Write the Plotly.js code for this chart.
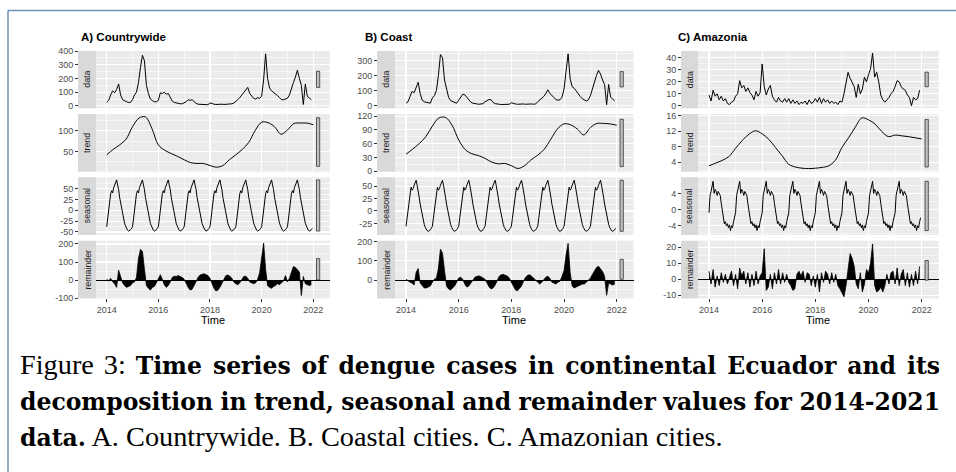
<!DOCTYPE html>
<html>
<head>
<meta charset="utf-8">
<script src="https://cdn.plot.ly/plotly-3.0.1.min.js"></script>
<style>
  body { margin: 0; background: #fff; }
  #wrap { position: relative; width: 956px; height: 472px; overflow: hidden; background: #fff; }
  #chart { position: absolute; left: 0; top: 0; width: 956px; height: 472px; }
  .ln { position: absolute; left: 20px; height: 0; line-height: 0; white-space: nowrap; color: #000;
        font-family: 'Liberation Serif', 'Times New Roman', serif; font-size: 28.3px; }
  .ln .r { font-family: 'Liberation Serif', 'Times New Roman', serif; font-size: 28.3px; font-weight: normal; }
  .ln .b { font-family: 'DejaVu Serif', serif; font-size: 23.5px; font-weight: bold; }
</style>
</head>
<body>
<div id="wrap">
  <div id="chart"></div>
  <div class="ln" id="l1" style="top:365px"><span class="inner"><span class="r">Figure 3:</span> <span class="b">Time series of dengue cases in continental Ecuador and its</span></span></div>
  <div class="ln" id="l2" style="top:401px"><span class="inner"><span class="b">decomposition in trend, seasonal and remainder values for 2014-2021</span></span></div>
  <div class="ln" id="l3" style="top:437px"><span class="inner"><span class="b">data.</span> <span class="r">A. Countrywide. B. Coastal cities. C. Amazonian cities.</span></span></div>
</div>
<script>
// ---------------- DATA ----------------
// observed series, sampled every 1/13 year from 2014.0
const dataA = [25,40,80,110,95,120,160,80,45,35,30,25,25,
  45,80,100,170,280,370,330,150,90,50,38,30,30,
  40,95,90,100,85,90,60,35,25,20,18,15,15,
  20,30,45,40,45,30,18,12,12,10,10,8,8,
  22,15,12,10,12,10,12,10,10,12,10,15,20,
  30,45,60,80,100,120,135,90,70,55,50,60,55,
  70,190,380,200,130,110,100,90,75,60,45,45,50,
  55,80,130,170,210,260,200,150,10,160,70,55,45];
const dataB = [15,25,60,95,85,115,155,80,35,25,22,20,15,
  50,65,100,200,340,320,170,120,55,32,25,20,15,
  35,55,75,72,55,40,22,15,10,10,8,10,12,
  25,35,40,38,20,12,8,8,6,7,6,5,8,
  18,12,10,8,10,8,10,8,10,8,10,8,10,
  25,35,50,60,80,105,80,68,50,40,35,38,55,
  110,230,345,180,125,115,95,80,60,45,35,30,38,
  65,110,160,200,235,210,170,140,5,140,55,45,30];
const dataC = [9,4,13,8,10,5,8,4,6,2,1,3,4,
  8,10,21,15,17,12,15,11,9,5,12,8,11,
  35,16,9,14,17,8,5,3,7,4,3,6,3,
  6,2,5,2,4,1,3,2,4,1,5,2,3,
  6,3,7,2,6,3,5,2,4,2,3,1,4,
  3,10,18,28,23,20,16,7,18,10,14,24,20,
  26,31,44,24,28,20,9,5,3,5,7,10,12,
  16,21,20,16,14,13,9,7,0,7,5,6,13];

// trend component, sampled quarterly from 2014.0
const trendA = [42,55,66,80,110,131,134,106,66,53,45,38,30,23,21,21,16,12,16,30,42,55,72,101,121,120,110,92,102,118,119,119,115];
const trendB = [37,48,60,75,98,116,117,100,68,47,38,34,28,20,16,17,12,6,12,25,35,48,70,92,103,101,92,79,95,104,104,103,100];
const trendC = [3.1,3.8,4.5,5.5,7.6,9.6,11.2,12.1,11.3,9.9,7.8,5.7,3.5,2.8,2.5,2.4,2.5,2.7,3.1,4.5,7.8,10.3,13.0,15.4,14.9,13.8,11.9,10.6,11.0,10.8,10.6,10.3,10.0];

// seasonal component: one yearly cycle (every 1/26 year), repeated each year by the decomposition
const seasA = [-38,-20,0,25,38,45,40,52,58,66,70,58,48,30,18,5,-10,-22,-30,-36,-42,-46,-48,-47,-45,-42];
const seasB = [-31,-15,2,25,40,48,42,45,52,58,62,52,42,28,14,2,-10,-20,-27,-33,-37,-40,-41,-40,-38,-35];
const seasC = [-0.8,3.5,4.5,5.5,7.0,4.0,5.0,4.5,3.5,4.5,4.0,3.5,1.5,-0.5,-2.5,-3.5,-3.0,-4.0,-3.5,-4.5,-3.8,-5.2,-4.0,-4.5,-3.0,-2.0];

// remainder component, sampled every 1/13 year from 2014.0
const remA = [5,-5,10,-10,-20,-40,55,25,-15,-30,-40,-35,-30,
  -15,-10,15,120,170,160,60,-30,-45,-55,-40,-35,-15,
  10,30,5,-25,-40,-30,-10,15,22,20,25,22,15,
  5,-20,-40,-55,-50,-30,-5,15,28,32,35,30,25,
  10,-20,-45,-60,-55,-40,-15,10,25,28,22,10,-10,
  -20,-25,-15,5,20,22,10,-10,-15,-20,-15,5,40,
  140,205,60,-30,-40,-45,-35,-30,-20,-25,-15,-5,25,
  -10,10,40,75,70,60,45,-85,20,-20,-25,-30,-25];
const remB = [5,-5,-10,-15,-25,40,60,-15,-30,-40,-40,-35,-30,
  -10,5,10,60,160,140,50,-30,-45,-50,-40,-30,-10,
  12,15,5,-20,-35,-30,-15,5,15,20,22,18,10,
  5,-15,-35,-45,-40,-25,0,20,28,30,25,22,10,
  -10,-35,-50,-55,-45,-30,-5,15,25,28,20,10,-5,
  -15,-20,-10,5,15,20,10,-10,-15,-20,-10,-5,20,
  50,130,190,40,-30,-40,-35,-30,-25,-20,-20,-10,-5,
  10,30,50,65,72,60,45,20,-78,-15,-20,-25,-20];
const remC = [5,-3,6,-5,2,-4,4,-2,3,-3,1,5,-4,
  3,-6,7,2,5,-3,4,-5,3,-4,5,-3,2,
  4,19,-7,-5,3,-6,4,-3,6,-3,4,-2,3,
  -2,-4,-7,-6,3,5,2,5,-2,4,3,-4,2,
  -5,3,-8,4,-2,5,3,-3,4,-2,3,-4,-6,
  -9,-11,-4,6,16,13,8,-3,-6,4,-8,-3,6,
  4,10,22,-4,-8,-7,-5,-8,-4,3,-3,4,5,
  -3,7,-4,3,6,-4,4,-5,3,-4,5,-3,8];

const startYear = 2014, nYears = 8;
const panelTitles = ['A) Countrywide', 'B) Coast', 'C) Amazonia'];
const stripLabels = ['data', 'trend', 'seasonal', 'remainder'];
const xTickVals = [2014, 2016, 2018, 2020, 2022];
const yTicks = [
  [[0,100,200,300,400], [50,100], [-50,-25,0,25,50], [-100,0,100,200]],
  [[0,100,200,300], [0,30,60,90,120], [-25,0,25,50], [0,100,200]],
  [[0,10,20,30,40], [4,8,12,16], [-4,0,4], [-10,0,10,20]]
];

// ---------------- LAYOUT GEOMETRY ----------------
const W = 956, H = 472;
const px = v => v / W, py = v => 1 - v / H;
const rowsPx = [[51, 108.3], [114, 171.7], [177.3, 235], [240.7, 298.4]];
const colsPx = [
  { strip: 78,  l: 96.1,  r: 329.8, tx: 79 },
  { strip: 377, l: 395.2, r: 633.6, tx: 363 },
  { strip: 681, l: 698.1, r: 938.7, tx: 676 }
];
const yRanges = [
  [[-18, 401], [1, 141], [-57, 76], [-101, 218]],
  [[-19, 364], [-1, 124.5], [-48.5, 68], [-94, 204]],
  [[-2.1, 45.8], [1.6, 16.4], [-6.3, 8.0], [-12, 24]]
];
const xRange = [2013.59, 2022.64];

const series = [
  [dataA, trendA, seasA, remA],
  [dataB, trendB, seasB, remB],
  [dataC, trendC, seasC, remC]
];

const FONT = 'Liberation Sans, Arial, Helvetica, sans-serif';
const tickFont = { family: FONT, size: 9, color: '#4D4D4D' };

const traces = [];
const shapes = [];
const annotations = [];
const layout = {
  width: W, height: H,
  margin: { l: 0, r: 0, t: 0, b: 0 },
  paper_bgcolor: '#FFFFFF',
  plot_bgcolor: '#EBEBEB',
  showlegend: false,
  font: { family: FONT, color: '#000' }
};

function tile(pattern, years) {
  const out = [];
  for (let y = 0; y < years; y++) for (const v of pattern) out.push(v);
  return out;
}
const ext = a => [Math.min(...a), Math.max(...a)];

for (let c = 0; c < 3; c++) {
  const col = colsPx[c];
  const xId = c === 0 ? 'x' : 'x' + (c + 1);
  const xKey = c === 0 ? 'xaxis' : 'xaxis' + (c + 1);
  const [obs, trd, seasPat, rem] = series[c];
  const tObs = obs.map((_, i) => startYear + i / 13);
  const tTrd = trd.map((_, k) => startYear + k / 4);
  const seasFull = tile(seasPat, nYears);
  const tSeas = seasFull.map((_, j) => startYear + j / 26);
  const tRem = rem.map((_, i) => startYear + i / 13);
  const comps = [
    { x: tObs, y: obs }, { x: tTrd, y: trd }, { x: tSeas, y: seasFull }, { x: tRem, y: rem }
  ];

  // range bars (same height in data units in every panel)
  const exts = comps.map(cp => ext(cp.y));
  const barH = Math.min(...exts.map(e => e[1] - e[0]));
  const xEnd = startYear + obs.length / 13;
  const bw = (xEnd - startYear) / 64;

  const bottomY = 'y' + (c * 4 + 4);
  layout[xKey] = {
    domain: [px(col.l), px(col.r)],
    range: xRange,
    anchor: bottomY,
    tickmode: 'array', tickvals: xTickVals, ticktext: xTickVals.map(String),
    ticks: 'outside', ticklen: 3, tickwidth: 1, tickcolor: '#333333',
    tickfont: tickFont,
    showgrid: true, gridcolor: '#FFFFFF', gridwidth: 1.1,
    minor: { tickmode: 'linear', tick0: 2013, dtick: 1, showgrid: true, gridcolor: '#FFFFFF', gridwidth: 0.55, ticks: '' },
    zeroline: false, showline: false, fixedrange: true
  };

  for (let r = 0; r < 4; r++) {
    const n = c * 4 + r + 1;
    const yId = n === 1 ? 'y' : 'y' + n;
    const yKey = n === 1 ? 'yaxis' : 'yaxis' + n;
    const [top, bot] = rowsPx[r];
    const tv = yTicks[c][r];
    const minorStep = (tv[1] - tv[0]) / 2;
    layout[yKey] = {
      domain: [py(bot), py(top)],
      range: yRanges[c][r],
      anchor: 'free', position: px(col.strip),
      tickmode: 'array', tickvals: tv, ticktext: tv.map(String),
      ticks: 'outside', ticklen: 3, tickwidth: 1, tickcolor: '#333333',
      tickfont: tickFont,
      showgrid: true, gridcolor: '#FFFFFF', gridwidth: 1.1,
      minor: { tickmode: 'linear', tick0: 0, dtick: minorStep, showgrid: true, gridcolor: '#FFFFFF', gridwidth: 0.55, ticks: '' },
      zeroline: r === 3, zerolinecolor: '#000000', zerolinewidth: 1,
      showline: false, fixedrange: true
    };

    const cp = comps[r];
    if (r === 3) {
      traces.push({
        type: 'scatter', mode: 'lines', x: cp.x, y: cp.y, xaxis: xId, yaxis: yId,
        fill: 'tozeroy', fillcolor: '#000000',
        line: { color: '#000000', width: 0.8 }, hoverinfo: 'skip'
      });
    } else {
      traces.push({
        type: 'scatter', mode: 'lines', x: cp.x, y: cp.y, xaxis: xId, yaxis: yId,
        line: { color: '#000000', width: 1, shape: r === 1 ? 'spline' : 'linear', smoothing: 1 },
        hoverinfo: 'skip'
      });
    }

    // range bar
    const mid = (exts[r][0] + exts[r][1]) / 2;
    shapes.push({
      type: 'rect', xref: xId, yref: yId,
      x0: xEnd + bw, x1: xEnd + 2 * bw, y0: mid - barH / 2, y1: mid + barH / 2,
      fillcolor: '#BFBFBF', line: { color: '#000000', width: 0.6 }, layer: 'above'
    });

    // strip
    shapes.push({
      type: 'rect', xref: 'paper', yref: 'paper',
      x0: px(col.strip), x1: px(col.l), y0: py(bot), y1: py(top),
      fillcolor: '#D9D9D9', line: { width: 0 }, layer: 'below'
    });
    annotations.push({
      xref: 'paper', yref: 'paper', x: px((col.strip + col.l) / 2), y: py((top + bot) / 2),
      text: stripLabels[r], showarrow: false, textangle: -90,
      xanchor: 'center', yanchor: 'middle',
      font: { family: FONT, size: 8.8, color: '#1A1A1A' }
    });
  }

  // panel title
  annotations.push({
    xref: 'paper', yref: 'paper', x: px(col.tx), y: py(37),
    text: '<b>' + panelTitles[c] + '</b>', showarrow: false,
    xanchor: 'left', yanchor: 'middle',
    font: { family: FONT, size: 11.5, color: '#000' }
  });
  // x-axis title
  annotations.push({
    xref: 'paper', yref: 'paper', x: px((col.l + col.r) / 2), y: py(319.5),
    text: 'Time', showarrow: false, xanchor: 'center', yanchor: 'middle',
    font: { family: FONT, size: 11, color: '#000' }
  });
}

// page frame (top and left rules)
shapes.push({ type: 'line', xref: 'paper', yref: 'paper', x0: px(8), x1: 1, y0: py(10.5), y1: py(10.5),
  line: { color: '#7290B4', width: 1.5 }, layer: 'above' });
shapes.push({ type: 'line', xref: 'paper', yref: 'paper', x0: px(8), x1: px(8), y0: py(10.5), y1: 0,
  line: { color: '#7290B4', width: 1.5 }, layer: 'above' });

layout.shapes = shapes;
layout.annotations = annotations;

Plotly.newPlot('chart', traces, layout, { staticPlot: true, displayModeBar: false });

// justify caption lines 1 and 2 to the text block width (20px .. 940px)
function fitLine(id, target) {
  const el = document.getElementById(id);
  el.style.wordSpacing = '0px';
  const inner = el.querySelector('.inner');
  const w = inner.getBoundingClientRect().width;
  const spaces = (inner.textContent.match(/ /g) || []).length;
  if (spaces > 0) el.style.wordSpacing = ((target - w) / spaces).toFixed(2) + 'px';
}
function fitAll() { fitLine('l1', 920); fitLine('l2', 920); }
fitAll();
if (document.fonts && document.fonts.ready) document.fonts.ready.then(fitAll);
</script>
</body>
</html>
